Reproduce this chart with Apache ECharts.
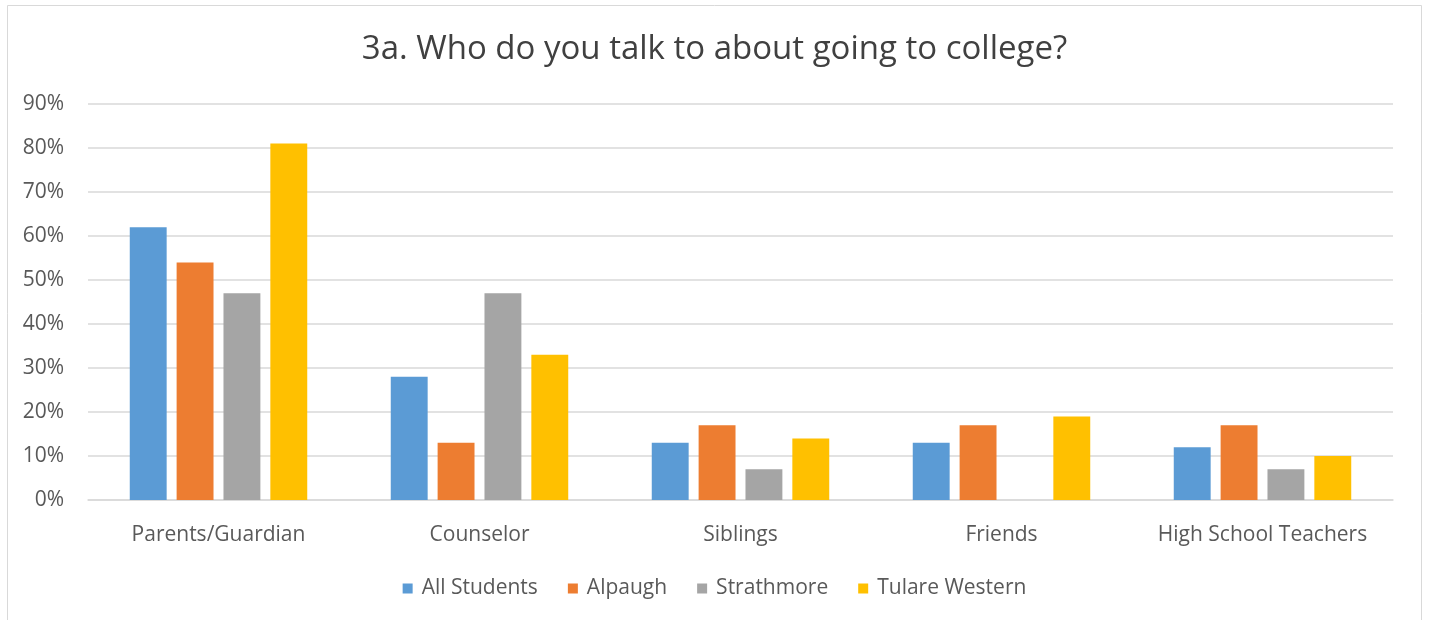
<!DOCTYPE html>
<html>
<head>
<meta charset="utf-8">
<script src="https://cdn.jsdelivr.net/npm/echarts@6/dist/echarts.min.js"></script>
<style>
  html, body { margin: 0; padding: 0; background: #ffffff; }
  #chart { width: 1429px; height: 620px; }
</style>
</head>
<body>
<div id="chart"></div>
<script>
// Survey question and answer categories
const chartTitle = '3a. Who do you talk to about going to college?';
const categories = ['Parents/Guardian', 'Counselor', 'Siblings', 'Friends', 'High School Teachers'];

// Share of students per school (percent)
const allStudents   = [62, 28, 13, 13, 12];
const alpaugh       = [54, 13, 17, 17, 17];
const strathmore    = [47, 47, 7, 0, 7];
const tulareWestern = [81, 33, 14, 19, 10];

const seriesNames = ['All Students', 'Alpaugh', 'Strathmore', 'Tulare Western'];
const seriesColors = ['#5B9BD5', '#ED7D31', '#A5A5A5', '#FFC000'];
const seriesValues = [allStudents, alpaugh, strathmore, tulareWestern];

const FONT = '"Open Sans", sans-serif';
const TEXT = '#595959';

const chart = echarts.init(document.getElementById('chart'), null, { renderer: 'canvas' });

chart.setOption({
  backgroundColor: '#ffffff',
  animation: false,
  graphic: [{
    type: 'rect',
    shape: { x: 7.5, y: 5.5, width: 1414, height: 640 },
    style: { fill: 'none', stroke: '#d9d9d9', lineWidth: 1 },
    silent: true
  }],
  title: {
    text: chartTitle,
    left: 'center',
    top: 28,
    textStyle: { fontFamily: FONT, fontSize: 33, fontWeight: 'normal', color: '#404040' }
  },
  legend: {
    bottom: 16,
    left: 'center',
    itemWidth: 10,
    itemHeight: 10,
    itemGap: 30,
    icon: 'rect',
    textStyle: { fontFamily: FONT, fontSize: 21, color: TEXT, padding: [0, 0, 0, 4] },
    data: seriesNames
  },
  grid: { left: 88, right: 36, top: 104, bottom: 120, containLabel: false },
  xAxis: {
    type: 'category',
    data: categories,
    axisLine: { show: true, lineStyle: { color: '#d9d9d9', width: 1.5 } },
    axisTick: { show: false },
    axisLabel: { interval: 0, fontFamily: FONT, fontSize: 21, color: TEXT, margin: 25 }
  },
  yAxis: {
    type: 'value',
    min: 0,
    max: 90,
    interval: 10,
    axisLine: { show: false },
    axisTick: { show: false },
    axisLabel: { formatter: '{value}%', fontFamily: FONT, fontSize: 21, color: TEXT, margin: 24 },
    splitLine: { lineStyle: { color: '#d9d9d9', width: 1.5 } }
  },
  series: seriesNames.map((name, i) => ({
    name,
    type: 'bar',
    data: seriesValues[i],
    barGap: '27%',
    barCategoryGap: '32%',
    itemStyle: { color: seriesColors[i] }
  }))
});
</script>
</body>
</html>
